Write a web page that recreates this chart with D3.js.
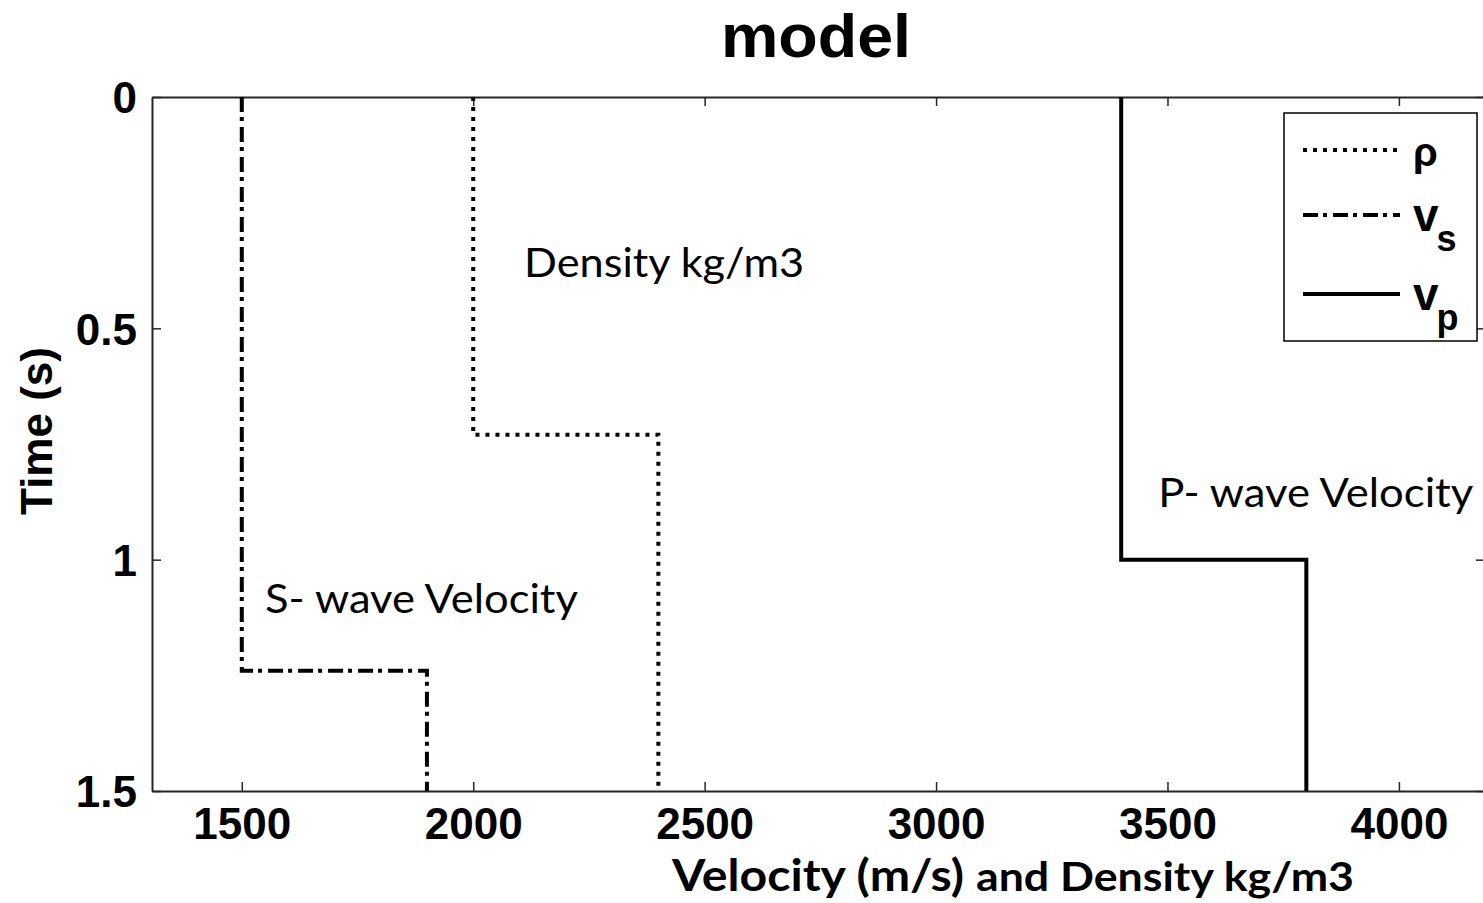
<!DOCTYPE html>
<html><head><meta charset="utf-8">
<script src="https://cdn.jsdelivr.net/npm/d3@7/dist/d3.min.js"></script>
<style>
html,body{margin:0;padding:0;background:#fff;overflow:hidden}
svg{display:block}
</style></head>
<body>
<script>
// ---- data ----
const densityTime = [0, 0.73, 0.73, 1.5];
const densityVal  = [2000, 2000, 2400, 2400];
const vsTime = [0, 1.24, 1.24, 1.5];
const vsVal  = [1500, 1500, 1900, 1900];
const vpTime = [0, 1.0, 1.0, 1.5];
const vpVal  = [3400, 3400, 3800, 3800];
const xTicks = [1500, 2000, 2500, 3000, 3500, 4000];
const yTicks = [0, 0.5, 1, 1.5];
const yTickLabels = ["0", "0.5", "1", "1.5"];
const legendLabels = [["ρ", ""], ["v", "s"], ["v", "p"]];
const annotations = [
  {text: "Density kg/m3", v: 2110, t: 0.39},
  {text: "S- wave Velocity", v: 1550, t: 1.115},
  {text: "P- wave Velocity", v: 3480, t: 0.887}
];

const W = 1483, H = 903;
const L = 152, R = 1485, T = 97, B = 791;
const svg = d3.select("body").append("svg").attr("width", W).attr("height", H);

const x = d3.scaleLinear().domain([1306, 4186]).range([L, R]);
const y = d3.scaleLinear().domain([0, 1.5]).range([T, B]);

const tickFont = "'Liberation Sans', Arial, sans-serif";
const axisColor = "#262626";

// axes
const gx = svg.append("g").attr("transform", `translate(0,${B})`)
  .call(d3.axisBottom(x).tickValues(xTicks).tickSizeInner(-9).tickSizeOuter(0).tickPadding(24).tickFormat(d3.format("d")));
const gxt = svg.append("g").attr("transform", `translate(0,${T})`)
  .call(d3.axisTop(x).tickValues(xTicks).tickSizeInner(-9).tickSizeOuter(0).tickFormat(""));
const gy = svg.append("g").attr("transform", `translate(${L},0)`)
  .call(d3.axisLeft(y).tickValues(yTicks).tickSizeInner(-9).tickSizeOuter(0).tickPadding(24).tickFormat((d, i) => yTickLabels[i]));
const gyr = svg.append("g").attr("transform", `translate(${R},0)`)
  .call(d3.axisRight(y).tickValues(yTicks).tickSizeInner(-9).tickSizeOuter(0).tickFormat(""));

[gx, gxt, gy, gyr].forEach(g => {
  g.select(".domain").attr("stroke", axisColor).attr("stroke-width", 2);
  g.selectAll(".tick line").attr("stroke", axisColor).attr("stroke-width", 1.5);
  g.selectAll("text").attr("font-family", tickFont).attr("font-weight", "bold")
    .attr("font-size", 44).attr("fill", "#000");
});
gx.selectAll(".tick text").attr("dy", "0.71em").attr("y", 17);
gy.selectAll(".tick text").attr("dy", "0.36em").attr("x", -15);

// step lines
const line = d3.line().x(d => x(d[0])).y(d => y(d[1]));
function series(vals, times) { return vals.map((v, i) => [v, times[i]]); }
const styles = [
  {data: series(densityVal, densityTime), dash: "4,6"},
  {data: series(vsVal, vsTime), dash: "15,5,4,6"},
  {data: series(vpVal, vpTime), dash: null}
];
styles.forEach(s => {
  svg.append("path").datum(s.data).attr("d", line)
    .attr("fill", "none").attr("stroke", "#000").attr("stroke-width", 4)
    .attr("stroke-dasharray", s.dash);
});

// title
svg.append("text").attr("x", 816).attr("y", 57).attr("text-anchor", "middle")
  .attr("font-family", tickFont).attr("font-weight", "bold").attr("font-size", 62)
  .attr("textLength", 190).attr("lengthAdjust", "spacingAndGlyphs")
  .text("model");

// y label
svg.append("text").attr("transform", "translate(52,431) rotate(-90)").attr("text-anchor", "middle")
  .attr("font-family", tickFont).attr("font-weight", "bold").attr("font-size", 44)
  .text("Time (s)");

// x label
const xl = svg.append("text").attr("x", 672).attr("y", 891)
  .attr("font-family", "Lato, 'Open Sans', sans-serif").attr("font-weight", "bold");
xl.append("tspan").attr("font-size", 44).text("Velocity (m/s)").attr("textLength", 292).attr("lengthAdjust", "spacingAndGlyphs");
xl.append("tspan").attr("font-size", 40).attr("dx", 12).text("and Density kg/m3").attr("textLength", 378).attr("lengthAdjust", "spacingAndGlyphs");

// annotations
const annWidths = [280, 313, 315];
annotations.forEach((a, i) => {
  svg.append("text").attr("x", x(a.v)).attr("y", y(a.t))
    .attr("font-family", "Lato, 'Open Sans', sans-serif").attr("font-size", 40)
    .attr("textLength", annWidths[i]).attr("lengthAdjust", "spacingAndGlyphs")
    .text(a.text);
});

// legend
const lg = svg.append("g");
lg.append("rect").attr("x", 1284).attr("y", 113).attr("width", 193).attr("height", 228)
  .attr("fill", "#fff").attr("stroke", "#000").attr("stroke-width", 1.5);
const legY = [150, 215, 294];
styles.forEach((s, i) => {
  lg.append("line").attr("x1", 1303).attr("x2", 1400).attr("y1", legY[i]).attr("y2", legY[i])
    .attr("stroke", "#000").attr("stroke-width", 4).attr("stroke-dasharray", s.dash);
  const t = lg.append("text").attr("x", 1413).attr("y", legY[i] + 16)
    .attr("font-family", tickFont).attr("font-weight", "bold").attr("font-size", 44);
  t.append("tspan").text(legendLabels[i][0]).attr("font-size", i === 0 ? 40 : 46);
  if (legendLabels[i][1]) {
    t.append("tspan").attr("font-size", 36).attr("dx", -2).attr("dy", 20).text(legendLabels[i][1]);
  }
});
</script>
</body></html>
